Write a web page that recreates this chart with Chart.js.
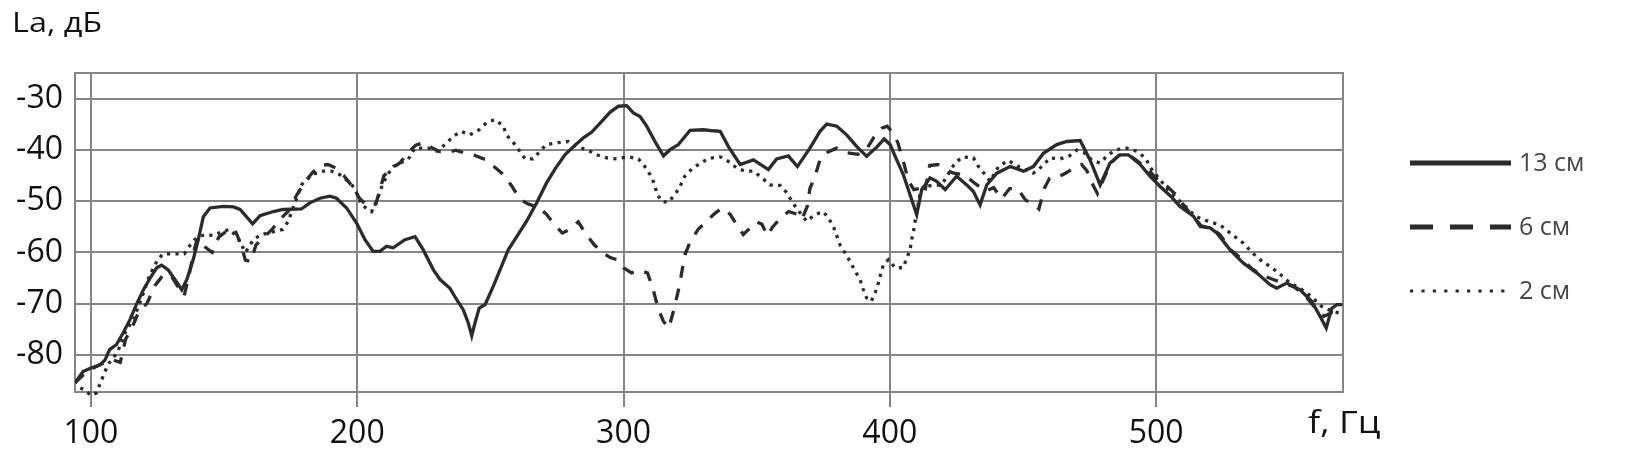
<!DOCTYPE html>
<html lang="ru">
<head>
<meta charset="utf-8">
<title>La, дБ — f, Гц</title>
<script src="https://cdn.jsdelivr.net/npm/chart.js@4.4.1/dist/chart.umd.min.js"></script>
<style>
  html, body { margin: 0; padding: 0; background: #fff; }
  #wrap { width: 1626px; height: 463px; }
</style>
</head>
<body>
<div id="wrap"><canvas id="chart" width="1626" height="463"></canvas></div>
<script>
"use strict";

/* ---------- data ---------- */
const seriesNames = ["13 см", "6 см", "2 см"];
const xTicks = [100, 200, 300, 400, 500];
const yTicks = [-80, -70, -60, -50, -40, -30];

// 13 cm (solid)
const f13 = [
  94, 97, 100, 103.4, 105.3, 107, 109.6, 112, 114.6, 117.2,
  119.7, 122.2, 124.7, 126.5, 129, 131.5, 134.1, 136, 138.4, 140.3,
  142.2, 144.7, 149.7, 153.5, 156, 160.7, 163.5, 168.5, 172.2, 179,
  182.2, 186, 189.7, 192.2, 196, 199.8, 202.9, 206, 208.5, 211,
  213.5, 217.9, 221.7, 224.8, 228.6, 231.1, 234.8, 237.3, 239.8, 241.7,
  243, 244.2, 245.8, 248, 251.1, 254.2, 256.7, 259.9, 263.6, 267.4,
  271.1, 274.5, 278, 281.2, 284.9, 288, 291.2, 294.9, 298.1, 301.2,
  303.7, 306.2, 308.7, 311.8, 315, 317.5, 320.6, 325, 330, 333.7,
  336.3, 339.4, 343.8, 348.8, 354.4, 357.5, 361.9, 365.3, 370, 373.8,
  376.3, 380.1, 383.8, 387.6, 391.3, 395.1, 397.9, 400.1, 402.6, 405.1,
  407.6, 410.1, 412, 415.1, 417.6, 420.8, 425.1, 428.9, 431.4, 433.9,
  436.4, 440.2, 445.2, 450.2, 453.9, 457.7, 462.7, 466.5, 471.5, 475.2,
  479, 482.7, 486.5, 489.6, 494, 497.8, 501.5, 505.3, 509, 514,
  516.6, 520.3, 522.8, 527.8, 532.8, 537.8, 542.8, 545.3, 549.1, 554.1,
  558.5, 561.6, 563.9, 566, 567.9, 570,
];
const la13 = [
  -85.5, -83.3, -82.6, -82, -81, -79, -78, -75.8, -73.2, -70,
  -67.3, -65, -63, -62.5, -63.4, -65.3, -67.3, -65.3, -61.4, -57.5,
  -53, -51.3, -51, -51.1, -51.6, -54.4, -52.8, -52, -51.6, -51.5,
  -50.3, -49.4, -49, -49.4, -51.3, -54.3, -57.5, -59.8, -59.8, -58.8,
  -59.1, -57.5, -56.9, -59.5, -63.4, -65.3, -67, -69.2, -71.2, -73.8,
  -76.3, -73.8, -70.9, -70.2, -66.6, -62.7, -59.5, -56.9, -53.9, -50.3,
  -46.4, -43.5, -40.9, -39.3, -37.6, -36.5, -34.7, -32.6, -31.4, -31.3,
  -32.7, -33.4, -35.3, -38.3, -41.1, -39.9, -38.9, -36.1, -36, -36.2,
  -36.3, -39.3, -42.8, -41.9, -43.8, -41.7, -41.1, -43.2, -39.6, -36.3,
  -34.9, -35.3, -37, -39.3, -41.2, -39.4, -37.8, -38.9, -41.9, -44.8,
  -48.7, -52.6, -47.7, -45.4, -46.1, -47.7, -45.1, -46.8, -48.1, -50.7,
  -46.8, -44.5, -43.2, -44.1, -43.2, -40.6, -38.9, -38.3, -38.1, -41.9,
  -46.8, -42.5, -40.9, -40.9, -42.8, -45.1, -47.1, -48.9, -51, -52.9,
  -54.9, -55.2, -56.2, -59.5, -62.1, -64, -66.3, -67, -66, -67.3,
  -69.6, -72.5, -74.8, -70.9, -70.2, -70.2,
];

// 6 cm (dashed)
const f6 = [
  94, 98, 102, 106, 108, 111, 113, 116, 118, 121,
  124, 127, 130, 133, 135, 137, 139, 140, 143, 145.5,
  148, 151, 154, 156, 158, 160, 162, 165, 168, 171,
  174, 177, 180, 183, 186, 189, 192, 195, 198, 201,
  204, 207, 210, 213, 216, 219, 222, 225, 228, 231,
  234, 237, 240, 244, 248, 252, 255, 258, 261, 264,
  268, 271, 274, 277, 280, 283, 286, 289, 292, 295,
  298, 300, 303, 306, 309, 311, 313, 315, 317, 319,
  321, 323, 325, 328, 331, 334, 337, 340, 343, 345,
  347, 350, 352, 354, 356, 359, 362, 365, 367, 369,
  370, 372, 374, 377, 380, 384, 388, 391, 394, 397,
  399, 401, 403, 405, 407, 409, 411, 413, 415, 418,
  421, 424, 428, 432, 436, 439, 442, 445, 448, 451,
  454, 456, 458, 460, 463, 466, 469, 472, 474, 476,
  478, 480, 483, 486, 490, 494, 497, 500, 504, 507,
  510, 513, 517, 521, 524, 528, 532, 536, 540, 544,
  548, 552, 556, 560, 563, 566, 570,
];
const la6 = [
  -85.5, -83.5, -82.3, -81.3, -81, -81.5, -77, -74, -71.5, -70,
  -66.5, -64.5, -64.5, -67, -68.5, -64, -59, -57.3, -59, -60,
  -57, -55.8, -55.5, -58, -61.5, -61.8, -58.5, -57, -55.5, -53.5,
  -52, -49, -46.5, -44.5, -43, -42.8, -43.5, -45, -47, -49.5,
  -51, -50.5, -45, -43.5, -42.5, -40.5, -39, -38.5, -39.5, -40.3,
  -40.5, -40, -40.5, -41, -41.8, -43.5, -44.8, -47, -49.5, -50.5,
  -51.2, -52.5, -54.5, -56.2, -55.5, -54, -56.5, -58.5, -60, -61,
  -61.5, -63, -64, -63.5, -64, -67, -71, -73.5, -74.8, -71,
  -66.5, -60.5, -58, -55.5, -54, -52.5, -51.3, -52.5, -55, -56.5,
  -55.5, -54, -54.5, -56.7, -55, -53.3, -52, -52.5, -53.5, -51,
  -47.5, -45, -41.5, -40.3, -39.6, -40.5, -40.8, -40, -37.5, -35.7,
  -35.3, -36.5, -38.5, -42, -46, -47.7, -47.5, -48.5, -43, -42.8,
  -43.8, -44.5, -44.8, -46.5, -48, -47.3, -49.5, -47.5, -47.5, -49.8,
  -50.5, -51.5, -47.5, -45.5, -45.3, -44.5, -43.5, -42.8, -44, -46.5,
  -48.5, -46, -42.5, -41, -41, -42.5, -43.8, -45.5, -47, -48.5,
  -50.5, -52.5, -54.8, -55.3, -56.5, -59.5, -61.2, -63.2, -64.5, -65.3,
  -66, -66.8, -68.5, -71, -72.5, -71.8, -72.5,
];

// 2 cm (dotted)
const f2 = [
  96, 98, 100, 102, 104, 105, 107, 110, 113, 116,
  119, 122, 125, 127, 131, 135, 138, 140, 143, 146,
  149, 152, 155, 158, 161, 164, 168, 172, 174, 176.6,
  179, 183, 186.6, 190.4, 193.5, 196.6, 199, 201.6, 205.4, 207.3,
  209, 211, 213.5, 216, 219, 221.7, 226.7, 230, 233.6, 236,
  239, 242.3, 245.8, 248.6, 251.7, 254.9, 256, 258.6, 261, 263,
  266, 268.6, 271, 275.5, 279.3, 282.4, 286.2, 290, 293.7, 297.4,
  301.8, 305.6, 308, 310, 311.8, 312.4, 314.3, 316.8, 319.3, 321.2,
  323, 325.6, 328.7, 332, 336.3, 339.4, 342.5, 345.6, 348.8, 352,
  355, 358.8, 361.3, 363.2, 365.3, 368.8, 371.9, 375, 377, 378.8,
  381.3, 383.2, 385, 387, 388.8, 390, 391.3, 393, 394.5, 395.7,
  396.6, 397.6, 399.5, 402, 405, 406.4, 407.6, 408.2, 409, 409.5,
  411.4, 412.6, 415.8, 419.5, 422.6, 424.5, 427.4, 431.4, 433.3, 435.8,
  437.7, 440.8, 444.5, 448.3, 453.9, 457.1, 460.2, 464, 467.5, 470.2,
  473, 476, 479, 482, 485, 489, 492.7, 496, 498, 501,
  505, 510, 515, 520, 524, 527.8, 532.8, 536, 539, 545.3,
  550.4, 554, 558, 562, 566, 570,
];
const la2 = [
  -86.5, -87, -88, -87.5, -85, -83.5, -81.5, -79.5, -75.5, -73,
  -69, -64.5, -61.5, -60.3, -60.3, -60.3, -58, -57, -56.5, -56.7,
  -56, -55.5, -57, -60, -57.5, -56.5, -56, -55.5, -54, -50.3,
  -46.8, -44.8, -44.1, -44.1, -44.8, -46.1, -47.4, -50.7, -52, -50,
  -47.4, -45.1, -43.2, -42.5, -41.9, -39.6, -39.6, -40.2, -38.6, -37.3,
  -36.3, -37, -36, -34.6, -34, -35.3, -37, -38.5, -40.2, -41.7,
  -41.7, -40.2, -38.9, -38.5, -38.3, -39.3, -39.9, -40.9, -41.5, -41.7,
  -41.3, -41.7, -43.2, -44.8, -46.8, -48.4, -50, -50.2, -48.7, -47.1,
  -45.1, -43.7, -42.6, -41.6, -41.3, -42.2, -43.5, -44.1, -44.1, -45.4,
  -46.8, -46.9, -48.3, -50, -51.6, -53.9, -52.6, -52, -53.3, -54.9,
  -58.5, -60.1, -61.7, -63.7, -65.3, -67.2, -68.9, -69.6, -67.9, -66,
  -64.2, -62.4, -61.4, -63, -63, -61.1, -59.5, -57.5, -55.6, -53.9,
  -48.4, -47.1, -46.9, -46.8, -44.1, -42.5, -41.3, -41.5, -43.2, -44.8,
  -46.1, -43.2, -42, -43.2, -44.5, -43.2, -41.5, -41.7, -41.1, -40,
  -40.5, -42, -42.5, -40.9, -39.9, -39.6, -40.2, -41.5, -43.5, -45.5,
  -48, -50.5, -53, -54, -54.6, -56.2, -58.2, -60, -61.4, -63.7,
  -66, -67, -68.5, -70.5, -71.5, -72,
];

/* ---------- look ---------- */
const FONT = "'Open Sans', sans-serif";
const GRID = "#858585";
const INK = "#2b2b2b";
const TEXT = "#111111";
const X_MIN = 94, X_MAX = 570.2;
const Y_MIN = -87.3, Y_MAX = -24.9;

// dash patterns: [in plot, in legend]
const styles = [
  { dash: [], legendDash: [] },
  { dash: [12, 11], legendDash: [23, 17] },
  { dash: [3.2, 5.3], legendDash: [3.2, 8.2] },
];

function points(xs, ys) { return xs.map((x, i) => ({ x, y: ys[i] })); }

// text that the source stretched sideways a bit
function wideText(ctx, str, x, y, size, sx) {
  ctx.save();
  ctx.translate(x, y);
  ctx.scale(sx, 1);
  ctx.font = size + "px " + FONT;
  ctx.fillText(str, 0, 0);
  ctx.restore();
}

/* ---------- extras: frame, titles, legend ---------- */
const extras = {
  id: "extras",
  beforeDatasetsDraw(chart) {
    const { ctx, chartArea: a } = chart;
    ctx.save();
    ctx.strokeStyle = GRID;
    ctx.lineWidth = 2;
    ctx.strokeRect(a.left, a.top, a.right - a.left, a.bottom - a.top);
    ctx.restore();
  },
  afterDraw(chart) {
    const ctx = chart.ctx;
    ctx.save();
    ctx.fillStyle = TEXT;
    ctx.textBaseline = "alphabetic";
    wideText(ctx, "La, дБ", 12, 32, 27, 1.2);
    wideText(ctx, "f, Гц", 1308, 433, 31, 1.17);

    // legend
    const rows = [163, 227, 291];
    seriesNames.forEach((name, i) => {
      const y = rows[i];
      ctx.strokeStyle = INK;
      ctx.lineWidth = i === 2 ? 3.2 : 5;
      ctx.setLineDash(styles[i].legendDash);
      ctx.beginPath();
      ctx.moveTo(1410, y);
      ctx.lineTo(1511, y);
      ctx.stroke();
      ctx.setLineDash([]);
      ctx.fillStyle = "#474747";
      ctx.font = "25px " + FONT;
      ctx.textBaseline = "middle";
      ctx.fillText(name, 1519, y + 1);
    });
    ctx.restore();
  },
};

/* ---------- chart ---------- */
const series = [points(f13, la13), points(f6, la6), points(f2, la2)];

new Chart(document.getElementById("chart"), {
  type: "line",
  data: {
    datasets: series.map((pts, i) => ({
      label: seriesNames[i],
      data: pts,
      borderColor: INK,
      borderWidth: 3.3,
      borderDash: styles[i].dash,
      pointRadius: 0,
      tension: 0,
      fill: false,
      clip: i === 2 ? false : undefined,
    })),
  },
  options: {
    responsive: false,
    devicePixelRatio: 1,
    animation: false,
    layout: { padding: { left: 0, top: 73, right: 283, bottom: 0 } },
    plugins: { legend: { display: false }, tooltip: { enabled: false } },
    scales: {
      x: {
        type: "linear",
        min: X_MIN,
        max: X_MAX,
        afterBuildTicks: (s) => { s.ticks = xTicks.map((v) => ({ value: v })); },
        afterFit: (s) => { s.height = 71; },
        grid: { color: GRID, lineWidth: 2, drawTicks: true, tickLength: 15, tickColor: GRID },
        border: { display: false },
        ticks: { color: TEXT, font: { family: FONT, size: 32 }, padding: 8, maxRotation: 0, autoSkip: false },
      },
      y: {
        type: "linear",
        min: Y_MIN,
        max: Y_MAX,
        afterBuildTicks: (s) => { s.ticks = yTicks.map((v) => ({ value: v })); },
        afterFit: (s) => { s.width = 75; },
        grid: { color: GRID, lineWidth: 2, drawTicks: false },
        border: { display: false },
        ticks: { color: TEXT, font: { family: FONT, size: 32 }, padding: 12 },
      },
    },
  },
  plugins: [extras],
});
</script>
</body>
</html>
